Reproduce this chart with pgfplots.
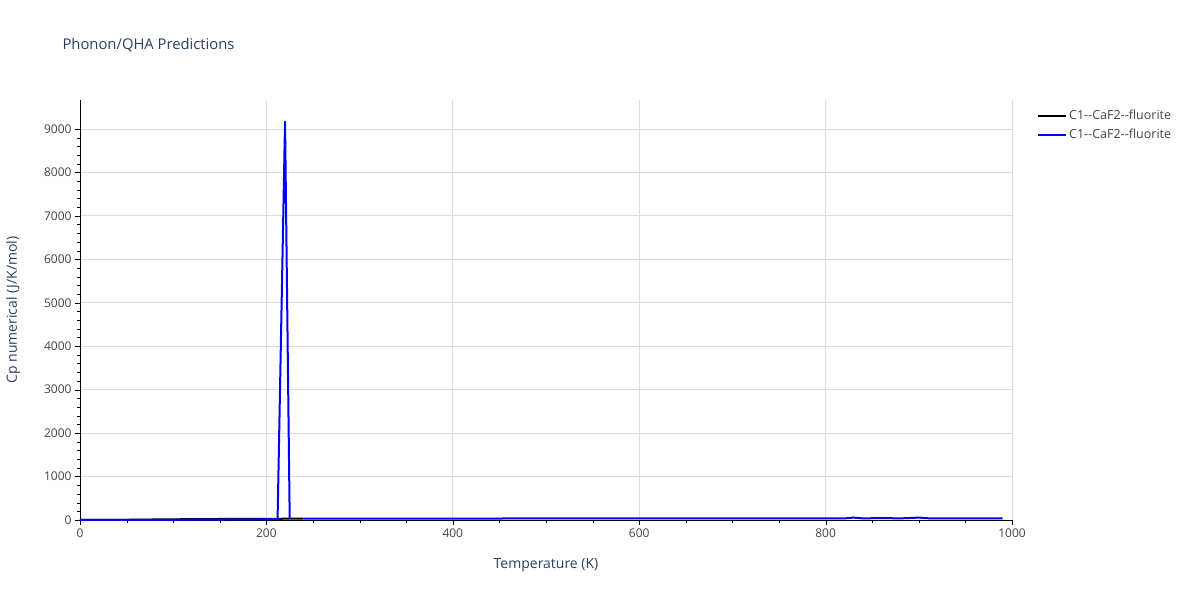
\documentclass[border=0pt]{standalone}
\usepackage{pgfplots}
\pgfplotsset{compat=1.18}
\usepackage{fontspec}
\setmainfont{Open Sans}
\definecolor{txt}{RGB}{42,63,95}
\definecolor{tick}{RGB}{68,68,68}
\definecolor{gridc}{RGB}{220,220,220}

\begin{document}
\begin{tikzpicture}[x=1pt,y=1pt]
\path[use as bounding box] (0,0) rectangle (1200,600);
\node[anchor=west,text=txt,font=\fontsize{14.8}{17}\selectfont] at (59,555) {Phonon/QHA Predictions};
\begin{axis}[
at={(80pt,80pt)}, anchor=south west,
width=932pt, height=420pt, scale only axis,
xmin=0, xmax=1000, ymin=0, ymax=9667,
xtick={0,200,...,1000}, minor x tick num=3,
ytick={0,1000,...,9000}, minor y tick num=4,
axis lines*=left, axis line style={black,-},
tick align=outside, tick style={black},
major tick length=5pt, minor tick length=3pt,
xmajorgrids, ymajorgrids,
major grid style={gridc,line width=0.8pt},
tick label style={text=tick,font=\fontsize{12}{14}\selectfont},
/pgf/number format/1000 sep={},
/pgf/number format/assume math mode=true,
xlabel={Temperature (K)}, ylabel={Cp numerical (J/K/mol)},
label style={text=txt,font=\fontsize{14}{16}\selectfont},
xlabel style={yshift=-14pt},
ylabel style={yshift=17pt},
unbounded coords=jump,
legend style={at={(1,1)},anchor=north west,xshift=22pt,yshift=-6pt,draw=none,fill=none,
  font=\fontsize{12.5}{15}\selectfont,text=tick,row sep=4pt},
legend cell align=left,
legend image code/.code={\draw[#1] (0pt,0pt) -- (28pt,0pt);},
every axis plot/.append style={line join=round},
]
\addplot[black,line width=2pt] coordinates {
(0,0) (10,0.1) (20,0.4) (30,1.4) (40,3) (50,5) (60,7.5) (70,10) (80,12) (90,14) (100,16)
(120,19.5) (140,22) (160,24.5) (180,26) (200,27.5) (220,29) (240,30)};
\addlegendentry{C1-{}-CaF2-{}-fluorite}
\addplot[blue,line width=2pt] coordinates {
(0,0) (10,0.1) (20,0.4) (30,1.4) (40,3) (50,4) (60,5) (70,5) (80,4) (100,5)
(120,7) (140,10) (160,12) (180,15) (200,17) (212,20) (220,9170) (225,22) (232,nan)
(240,30) (260,31) (280,31.5) (300,32) (350,33) (400,34) (450,34.5) (500,35)
(550,35) (600,35.5) (650,35.5) (700,36) (750,36) (800,36) (820,36.5) (830,55) (840,37)
(860,45) (880,37) (900,55) (910,40) (930,38) (960,38) (990,38)};
\addlegendentry{C1-{}-CaF2-{}-fluorite}
\end{axis}
\end{tikzpicture}
\end{document}
